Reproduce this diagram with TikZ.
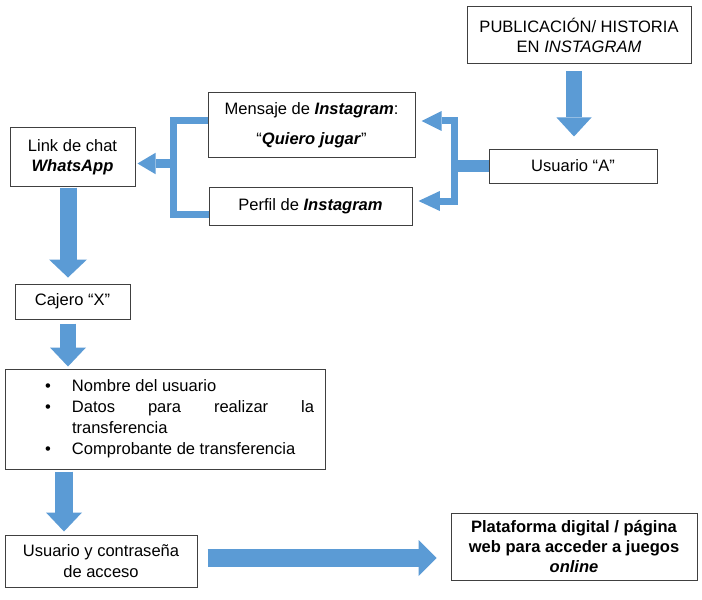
\documentclass[tikz,border=0pt]{standalone}
\usepackage{fontspec}
\setmainfont{Liberation Sans}
\usetikzlibrary{arrows.meta,calc}
\definecolor{arrowblue}{HTML}{5B9BD5}
\definecolor{boxgray}{HTML}{404040}
\newcommand\bulitem{\leavevmode\llap{\textbullet\hskip 15.75pt}}
\tikzset{
  box/.style={draw=boxgray, line width=0.75pt, fill=white, align=center, inner sep=0pt,
    font=\fontsize{12.4pt}{15pt}\selectfont},
  fat/.style={draw=arrowblue, line join=miter, line cap=butt},
}
\begin{document}
\begin{tikzpicture}[x=0.75pt,y=-0.75pt]
\fill[white] (0,0) rectangle (702,599);
\useasboundingbox (0,0) rectangle (702,599);

% boxes
\node[box, minimum width=168pt, minimum height=42.75pt] (pub) at (579,35.5)
  {PUBLICACIÓN/ HISTORIA\\EN \textit{INSTAGRAM}};
\node[box, minimum width=126pt, minimum height=25.5pt] (ua) at (573,166)
  {Usuario “A”};
\node[box, minimum width=155.25pt, minimum height=48pt] (msg) at (311.5,125)
  {Mensaje de \textbf{\textit{Instagram}}:\\[7.5pt]“\textbf{\textit{Quiero jugar}}”};
\node[box, minimum width=152.25pt, minimum height=28.5pt] (perf) at (310.5,206)
  {Perfil de \textbf{\textit{Instagram}}};
\node[box, minimum width=93.75pt, minimum height=43.5pt] (link) at (72.5,157)
  {Link de chat\\\textbf{\textit{WhatsApp}}};
\node[box, minimum width=86.25pt, minimum height=26.25pt] (caj) at (72.5,301.5)
  {Cajero “X”};
\node[box, minimum width=240pt, minimum height=75pt] (list) at (165,419)
  {\parbox{240pt}{\fontsize{12.4pt}{15.75pt}\selectfont
   \parindent=0pt \leftskip=50.25pt \rightskip=8.25pt
   \hyphenpenalty=10000 \exhyphenpenalty=10000 \tolerance=10000 \hbadness=10000
   \bulitem Nombre del usuario\par
   \bulitem Datos para realizar la transferencia\par
   \bulitem Comprobante de transferencia\par}};
\node[box, minimum width=144pt, minimum height=39pt, font=\fontsize{12.4pt}{15.5pt}\selectfont] (usr) at (101,561)
  {Usuario y contraseña\\de acceso};
\node[box, minimum width=184.5pt, minimum height=50.25pt] (plat) at (574,546.5)
  {\textbf{Plataforma digital / página}\\\textbf{web para acceder a juegos}\\\textbf{\textit{online}}};

% publication -> user A
\draw[fat, line width=12pt, -{Triangle[width=26.25pt,length=14.25pt,line width=0pt]}]
  ($(pub.south)+(-5,7)$) -- ($(ua.north)+(1,-12)$);

% user A -> message / profile
\coordinate (rtop) at ($(ua.west)+(-34,-45)$);
\coordinate (rbot) at ($(ua.west)+(-34,35)$);
\draw[fat, line width=9pt] (ua.west) -- ($(ua.west)+(-34,0)$);
\draw[fat, line width=5.25pt,
  {Triangle[width=15pt,length=15pt,line width=0pt]}-{Triangle[width=15pt,length=16pt,line width=0pt]}]
  ($(msg.east)+(6,-4)$) -- (rtop) -- (rbot) -- ($(perf.east)+(6,-5)$);

% message / profile -> WhatsApp link
\coordinate (lj) at ($(msg.west)+(-34.5,38.5)$);
\draw[fat, line width=5.25pt]
  ($(msg.west)+(0,-4)$) -- ($(msg.west)+(-34.5,-4)$) -- ($(perf.west)+(-35.5,8)$) -- ($(perf.west)+(0,8)$);
\draw[fat, line width=6.5pt, -{Triangle[width=16pt,length=13.5pt,line width=0pt]}]
  (lj) -- ($(link.east)+(2,6.5)$);

% link -> cajero
\draw[fat, line width=12.75pt, -{Triangle[width=28.5pt,length=13.5pt,line width=0pt]}]
  ($(link.south)+(-4.5,1)$) -- ($(caj.north)+(-4.5,-6)$);

% cajero -> list
\draw[fat, line width=12pt, -{Triangle[width=27pt,length=14.25pt,line width=0pt]}]
  ($(caj.south)+(-4.5,4)$) -- ($(caj.south |- list.north)+(-4.5,-2)$);

% list -> user/password
\draw[fat, line width=13.5pt, -{Triangle[width=27pt,length=14.25pt,line width=0pt]}]
  ($(usr.north |- list.south)+(-37,2)$) -- ($(usr.north)+(-37,-3)$);

% user/password -> platform
\draw[fat, line width=13.5pt, -{Triangle[width=27pt,length=13.5pt,line width=0pt]}]
  ($(usr.east)+(10,-3)$) -- ($(plat.west)+(-14,11.5)$);
\end{tikzpicture}
\end{document}
